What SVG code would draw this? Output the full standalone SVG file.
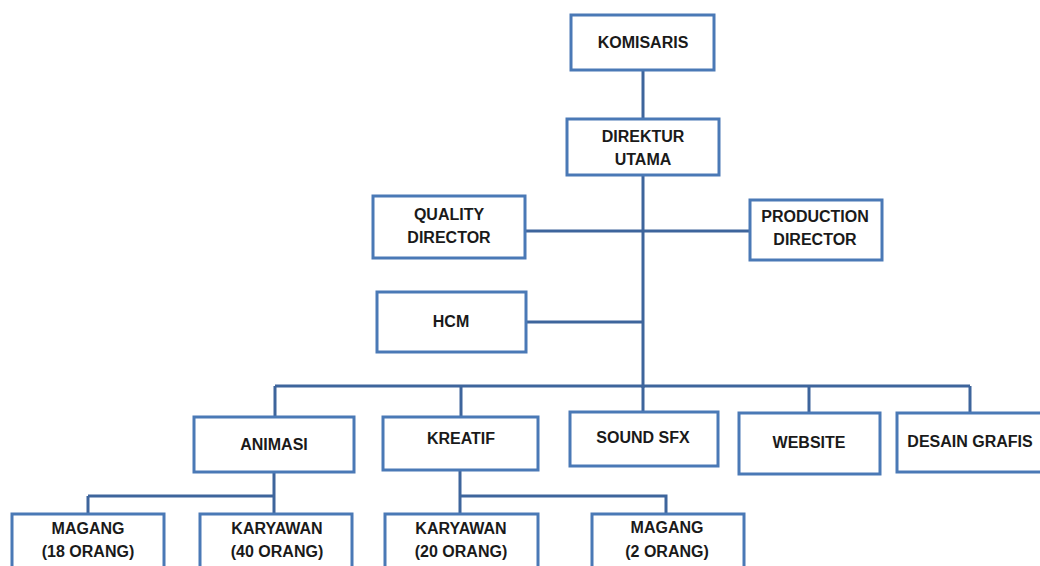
<svg xmlns="http://www.w3.org/2000/svg" width="1040" height="566" viewBox="0 0 1040 566">
<style>
.box{fill:#fff;stroke:#4a79b6;stroke-width:3}
.t{font-family:"Liberation Sans",Arial,sans-serif;font-weight:bold;font-size:16px;fill:#1a1a1a;text-anchor:middle}
.c{stroke:#3e659c;stroke-width:3;fill:none}
</style>
<rect width="1040" height="566" fill="#fff"/>
<g id="connectors">
<path class="c" d="M643 70V388"/>
<path class="c" d="M525 231H750"/>
<path class="c" d="M526 322H643"/>
<path class="c" d="M275 386H970"/>
<path class="c" d="M275 386V417M461 386V417M643 386V412M809 386V413M970 386V413"/>
<path class="c" d="M274 472V514M88 496H274M88 496V514"/>
<path class="c" d="M460 470V514M460 496H666V514"/>
</g>
<g id="komisaris"><rect class="box" x="571" y="15" width="143" height="55"/><text class="t" x="643" y="48">KOMISARIS</text></g>
<g id="direktur-utama"><rect class="box" x="567" y="119" width="152" height="56"/><text class="t" x="643" y="142">DIREKTUR</text><text class="t" x="643" y="165">UTAMA</text></g>
<g id="quality-director"><rect class="box" x="373" y="196" width="152" height="62"/><text class="t" x="449" y="220">QUALITY</text><text class="t" x="449" y="243">DIRECTOR</text></g>
<g id="production-director"><rect class="box" x="750" y="200" width="132" height="60"/><text class="t" x="815" y="222">PRODUCTION</text><text class="t" x="815" y="245">DIRECTOR</text></g>
<g id="hcm"><rect class="box" x="377" y="292" width="149" height="60"/><text class="t" x="451" y="327">HCM</text></g>
<g id="animasi"><rect class="box" x="194" y="417" width="160" height="55"/><text class="t" x="274" y="450">ANIMASI</text></g>
<g id="kreatif"><rect class="box" x="383" y="417" width="155" height="53"/><text class="t" x="461" y="444">KREATIF</text></g>
<g id="sound-sfx"><rect class="box" x="570" y="412" width="148" height="54"/><text class="t" x="643" y="443">SOUND SFX</text></g>
<g id="website"><rect class="box" x="739" y="413" width="141" height="61"/><text class="t" x="809" y="448">WEBSITE</text></g>
<g id="desain-grafis"><rect class="box" x="897" y="413" width="146" height="59"/><text class="t" x="970" y="447">DESAIN GRAFIS</text></g>
<g id="magang-18"><rect class="box" x="12" y="514" width="152" height="60"/><text class="t" x="88" y="534">MAGANG</text><text class="t" x="88" y="557">(18 ORANG)</text></g>
<g id="karyawan-40"><rect class="box" x="200" y="514" width="152" height="60"/><text class="t" x="277" y="534">KARYAWAN</text><text class="t" x="277" y="557">(40 ORANG)</text></g>
<g id="karyawan-20"><rect class="box" x="385" y="514" width="153" height="60"/><text class="t" x="461" y="534">KARYAWAN</text><text class="t" x="461" y="557">(20 ORANG)</text></g>
<g id="magang-2"><rect class="box" x="592" y="514" width="152" height="60"/><text class="t" x="667" y="533">MAGANG</text><text class="t" x="667" y="557">(2 ORANG)</text></g>
</svg>
